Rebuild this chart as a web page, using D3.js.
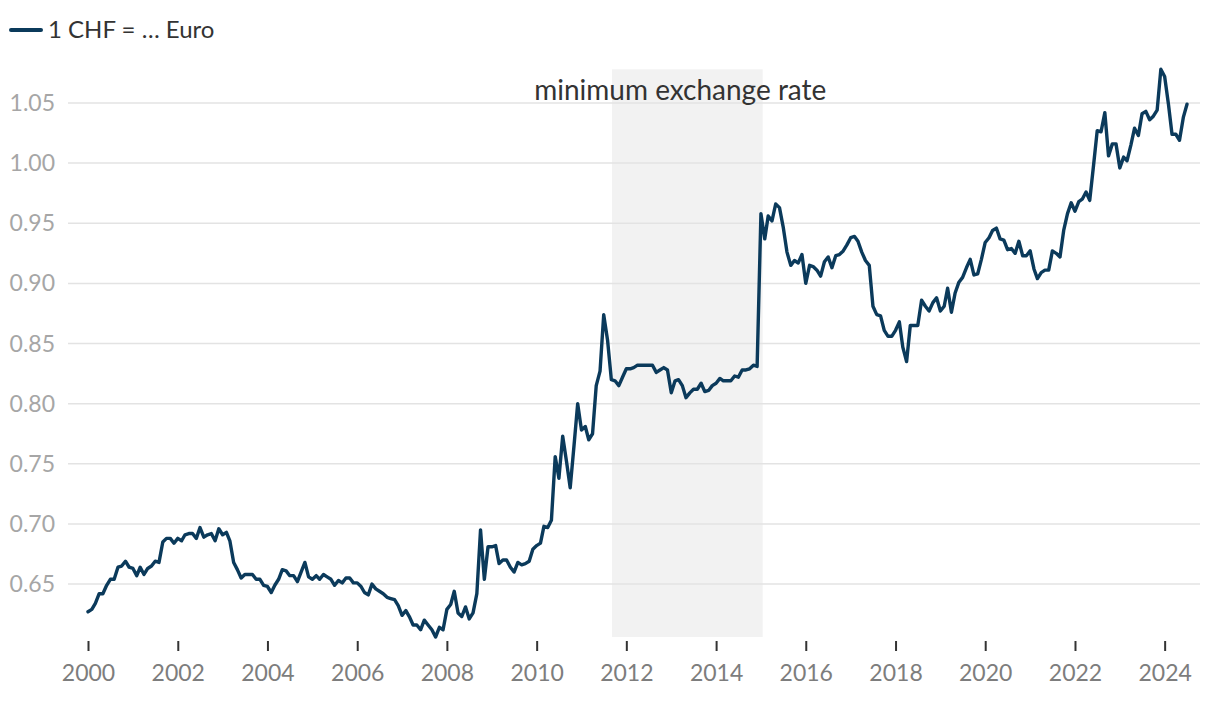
<!DOCTYPE html>
<html><head><meta charset="utf-8">
<script src="https://cdn.jsdelivr.net/npm/d3@7"></script>
<style>
html,body{margin:0;padding:0;background:#fff;}
svg{display:block;font-family:Lato,"Noto Sans",sans-serif;}
</style></head>
<body><svg id="chart" width="1220" height="702"></svg>
<script>
const seriesName = "1 CHF = … Euro";
const startMonth = "2000-01";
const values = [
0.627,0.629,0.634,0.642,0.642,0.649,0.654,0.654,0.664,0.665,0.669,0.664,
0.663,0.657,0.664,0.658,0.663,0.665,0.669,0.668,0.685,0.688,0.688,0.684,
0.688,0.686,0.691,0.692,0.692,0.688,0.697,0.689,0.691,0.692,0.686,0.696,
0.691,0.693,0.686,0.668,0.662,0.655,0.658,0.658,0.658,0.654,0.654,0.649,
0.648,0.643,0.649,0.654,0.662,0.661,0.657,0.657,0.652,0.660,0.668,0.656,
0.654,0.657,0.654,0.658,0.656,0.654,0.649,0.653,0.651,0.655,0.655,0.651,
0.651,0.648,0.643,0.641,0.650,0.646,0.644,0.642,0.639,0.638,0.637,0.632,
0.624,0.628,0.623,0.616,0.616,0.612,0.620,0.616,0.612,0.606,0.614,0.612,
0.629,0.633,0.644,0.626,0.623,0.631,0.621,0.626,0.642,0.695,0.654,0.681,
0.681,0.682,0.667,0.670,0.670,0.664,0.660,0.668,0.666,0.667,0.669,0.679,
0.682,0.684,0.698,0.697,0.703,0.756,0.738,0.773,0.752,0.730,0.765,0.800,
0.778,0.781,0.770,0.775,0.815,0.827,0.874,0.853,0.820,0.819,0.815,0.822,
0.829,0.829,0.830,0.832,0.832,0.832,0.832,0.832,0.826,0.828,0.830,0.828,
0.809,0.819,0.820,0.815,0.805,0.809,0.812,0.812,0.817,0.810,0.811,0.815,
0.817,0.821,0.819,0.819,0.819,0.823,0.822,0.828,0.828,0.829,0.832,0.831,
0.958,0.937,0.956,0.952,0.966,0.963,0.947,0.926,0.915,0.919,0.917,0.924,
0.900,0.915,0.914,0.911,0.906,0.918,0.922,0.913,0.923,0.924,0.927,0.932,
0.938,0.939,0.935,0.926,0.919,0.915,0.881,0.874,0.873,0.861,0.856,0.856,
0.861,0.868,0.847,0.835,0.865,0.865,0.865,0.886,0.881,0.877,0.884,0.888,
0.877,0.881,0.896,0.876,0.892,0.901,0.905,0.913,0.920,0.907,0.908,0.920,
0.934,0.938,0.944,0.946,0.937,0.936,0.928,0.929,0.925,0.935,0.923,0.923,
0.927,0.912,0.904,0.909,0.911,0.911,0.927,0.925,0.922,0.944,0.958,0.967,
0.960,0.968,0.970,0.976,0.969,0.998,1.027,1.026,1.042,1.006,1.016,1.016,
0.996,1.005,1.002,1.015,1.029,1.023,1.041,1.043,1.036,1.039,1.044,1.078,
1.072,1.049,1.024,1.024,1.019,1.038,1.049
];
const yTicks = [0.65,0.70,0.75,0.80,0.85,0.90,0.95,1.00,1.05];
const xTickYears = [2000,2002,2004,2006,2008,2010,2012,2014,2016,2018,2020,2022,2024];
const bandStart = "2011-09-06";
const bandEnd = "2015-01-15";
const bandLabel = "minimum exchange rate";

const parseM = d3.timeParse("%Y-%m");
const parseD = d3.timeParse("%Y-%m-%d");
const t0 = parseM(startMonth);
const data = values.map((v,i)=>({date:d3.timeMonth.offset(t0,i), value:v}));

const svg = d3.select("#chart");
const mLeft = 88, mRight = 1187, mTop = 69.3, mBottom = 637;

const x = d3.scaleTime().domain(d3.extent(data,d=>d.date)).range([mLeft,mRight]);
const y = d3.scaleLinear().domain(d3.extent(data,d=>d.value)).range([mBottom,mTop]);

// band
svg.append("rect")
  .attr("x", x(parseD(bandStart))).attr("y", mTop)
  .attr("width", x(parseD(bandEnd)) - x(parseD(bandStart)))
  .attr("height", mBottom - mTop)
  .attr("fill", "#f2f2f2");

// gridlines
svg.append("g").selectAll("line").data(yTicks).join("line")
  .attr("x1", 68).attr("x2", 1200)
  .attr("y1", d=>y(d)).attr("y2", d=>y(d))
  .attr("stroke", "#e3e3e3").attr("stroke-width", 1.5);

// y labels
svg.append("g").selectAll("text").data(yTicks).join("text")
  .attr("x", 55).attr("y", d=>y(d)).attr("dy","0.35em")
  .attr("text-anchor","end")
  .attr("font-size", 23).attr("fill", "#a6a6a6")
  .text(d=>d3.format(".2f")(d));

// x axis
const xAxis = d3.axisBottom(x)
  .tickValues(xTickYears.map(yr=>new Date(yr,0,1)))
  .tickFormat(d3.timeFormat("%Y"))
  .tickSize(10).tickPadding(14);
const gx = svg.append("g").attr("transform", `translate(0,${641})`).call(xAxis);
gx.select(".domain").remove();
gx.selectAll(".tick line").attr("stroke","#333").attr("stroke-width",2);
gx.selectAll(".tick text").attr("font-size",23).attr("fill","#7d7d7d")
  .attr("font-family","Lato,'Noto Sans',sans-serif");

// band label
svg.append("text")
  .attr("x", (x(parseD(bandStart)) + x(parseD(bandEnd)))/2 - 7)
  .attr("y", 100).attr("text-anchor","middle")
  .attr("font-size", 28).attr("fill","#333")
  .text(bandLabel);

// line
svg.append("path").datum(data)
  .attr("fill","none").attr("stroke","#0b3a5b").attr("stroke-width",3.4)
  .attr("stroke-linejoin","round").attr("stroke-linecap","round")
  .attr("d", d3.line().x(d=>x(d.date)).y(d=>y(d.value)));

// legend
const lg = svg.append("g");
lg.append("line").attr("x1",11).attr("x2",41).attr("y1",30).attr("y2",30)
  .attr("stroke","#0b3a5b").attr("stroke-width",4).attr("stroke-linecap","round");
lg.append("text").attr("x",48).attr("y",30).attr("dy","0.35em")
  .attr("font-size",24).attr("fill","#333").text(seriesName);
</script>
</body></html>
